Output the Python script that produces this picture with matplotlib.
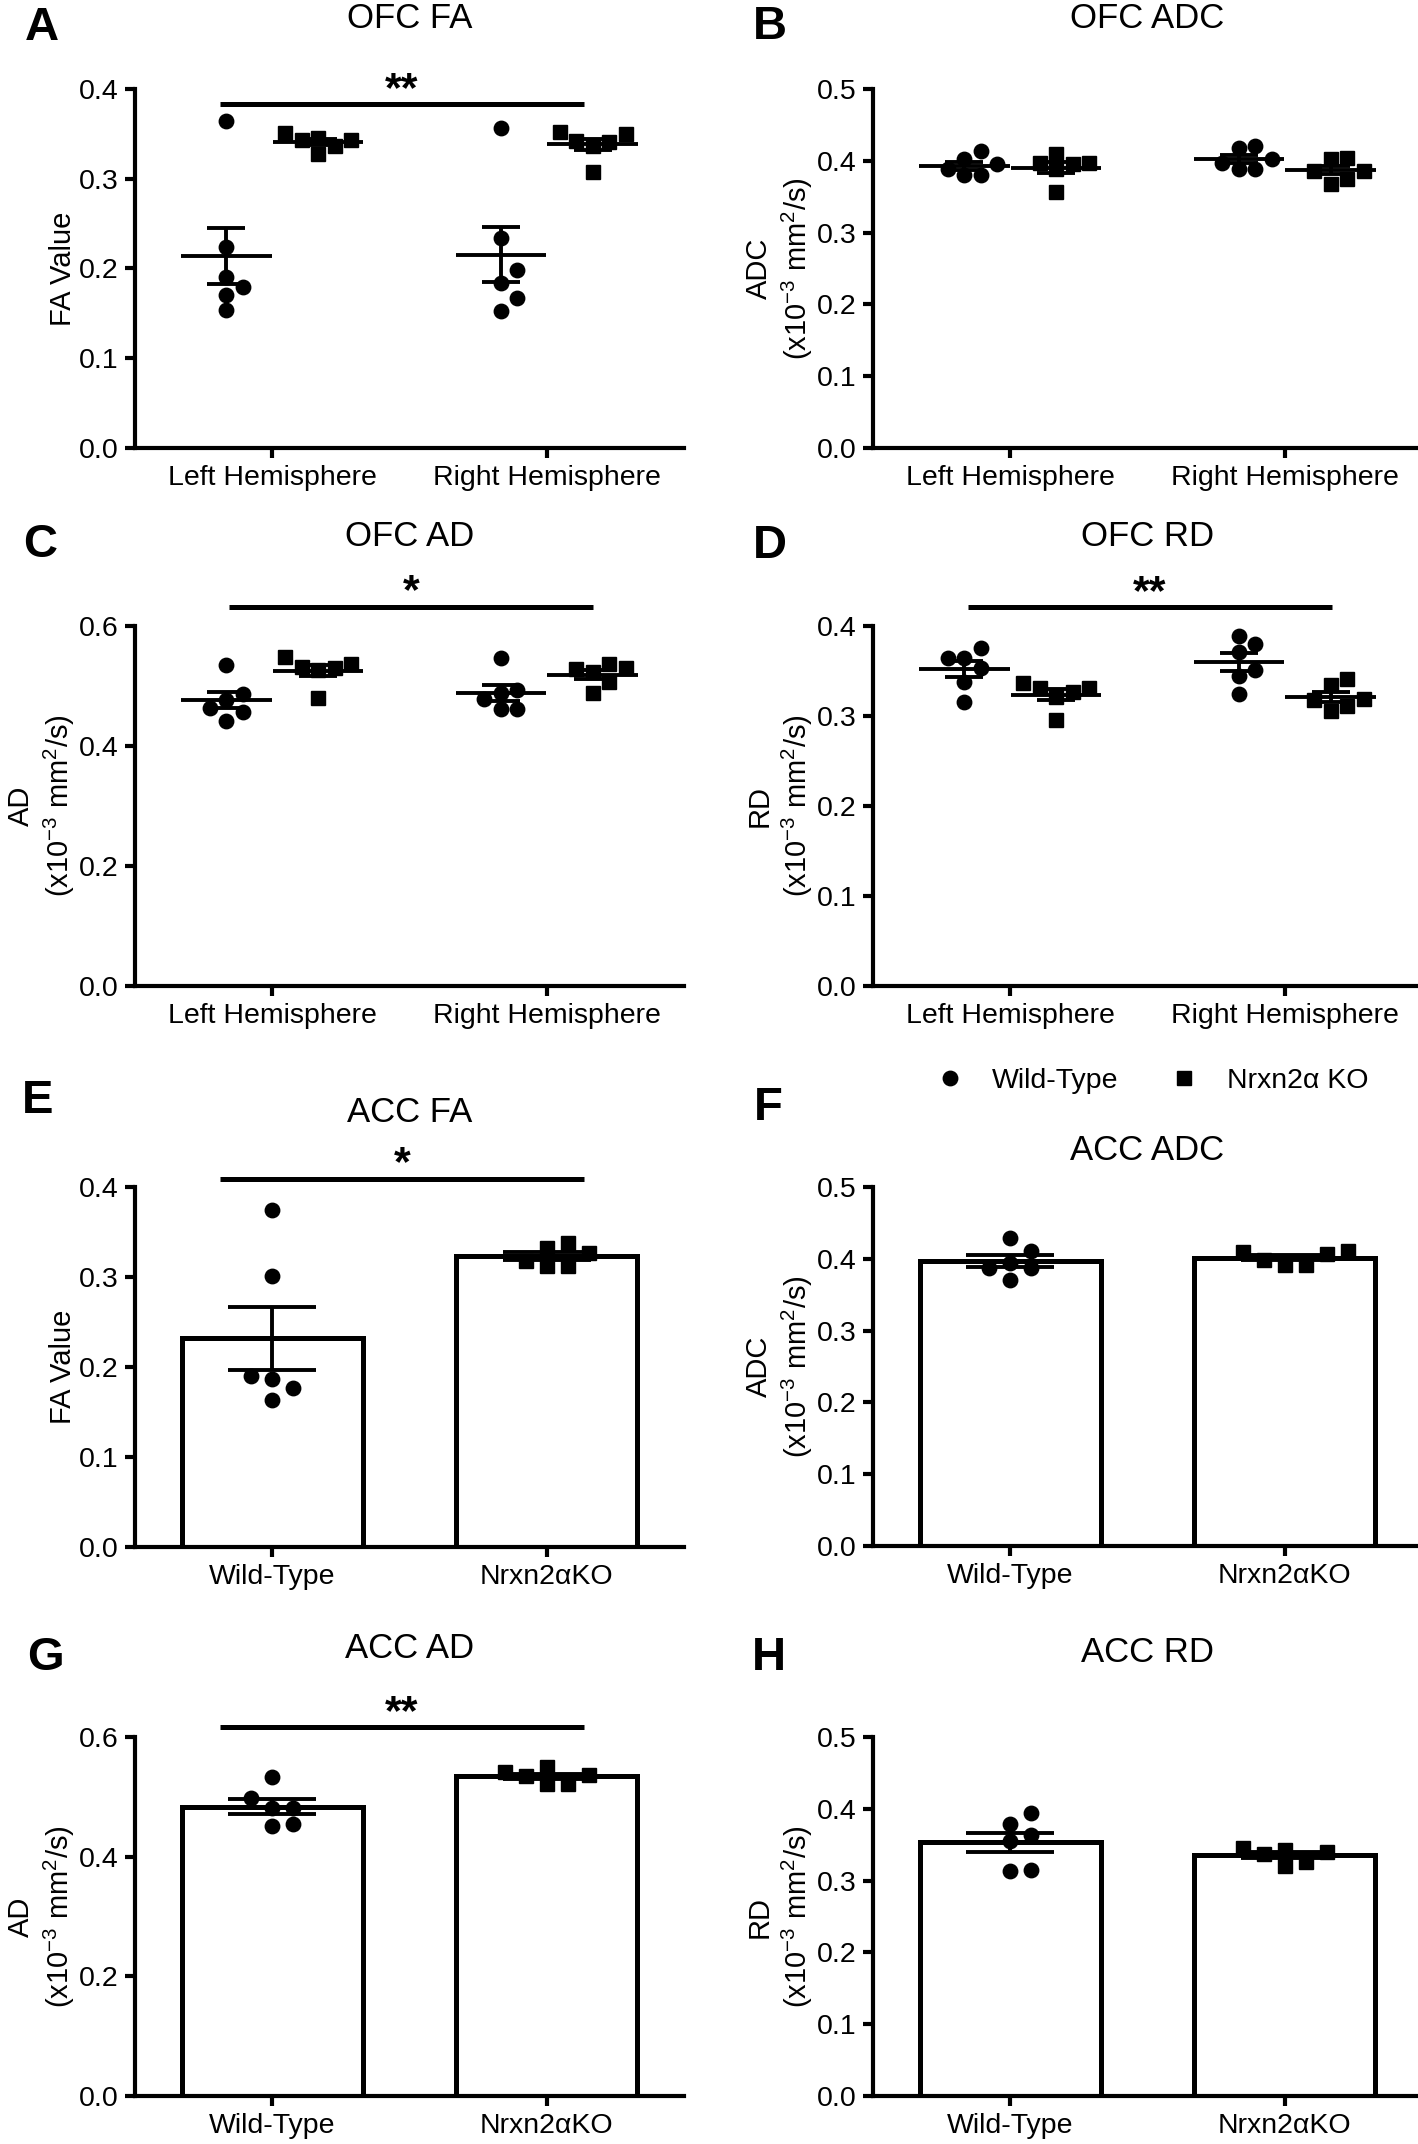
import numpy as np
import matplotlib
matplotlib.use('Agg')
import matplotlib.pyplot as plt
from matplotlib.lines import Line2D
from matplotlib.ticker import FormatStrFormatter

plt.rcParams['font.family'] = ['Liberation Sans', 'DejaVu Sans']
plt.rcParams['mathtext.default'] = 'regular'

# ---- data ----
hemis = ['Left Hemisphere', 'Right Hemisphere']
genotypes = ['Wild-Type', 'Nrxn2\u03b1KO']

ofc_fa_wt_left = [0.364, 0.2235, 0.191, 0.179, 0.171, 0.154]
ofc_fa_ko_left = [0.343, 0.343, 0.328, 0.337, 0.345, 0.351]
ofc_fa_wt_right = [0.356, 0.234, 0.198, 0.184, 0.167, 0.153]
ofc_fa_ko_right = [0.350, 0.341, 0.308, 0.336, 0.342, 0.352]

ofc_adc_wt_left = [0.403, 0.413, 0.388, 0.380, 0.380, 0.395]
ofc_adc_ko_left = [0.397, 0.395, 0.388, 0.357, 0.397, 0.409]
ofc_adc_wt_right = [0.397, 0.420, 0.389, 0.389, 0.418, 0.402]
ofc_adc_ko_right = [0.386, 0.404, 0.368, 0.375, 0.403, 0.386]

ofc_ad_wt_left = [0.535, 0.487, 0.464, 0.476, 0.457, 0.442]
ofc_ad_ko_left = [0.536, 0.530, 0.527, 0.480, 0.532, 0.549]
ofc_ad_wt_right = [0.546, 0.494, 0.479, 0.488, 0.461, 0.461]
ofc_ad_ko_right = [0.530, 0.524, 0.536, 0.488, 0.507, 0.528]

ofc_rd_wt_left = [0.365, 0.376, 0.365, 0.353, 0.338, 0.316]
ofc_rd_ko_left = [0.331, 0.327, 0.321, 0.296, 0.331, 0.337]
ofc_rd_wt_right = [0.389, 0.380, 0.371, 0.351, 0.344, 0.324]
ofc_rd_ko_right = [0.318, 0.341, 0.306, 0.311, 0.334, 0.319]

acc_fa_wt = [0.374, 0.301, 0.190, 0.187, 0.177, 0.163]
acc_fa_ko = [0.332, 0.318, 0.338, 0.312, 0.312, 0.327]
acc_adc_wt = [0.429, 0.411, 0.387, 0.371, 0.387, 0.394]
acc_adc_ko = [0.411, 0.399, 0.391, 0.391, 0.406, 0.410]
acc_ad_wt = [0.533, 0.498, 0.482, 0.482, 0.452, 0.454]
acc_ad_ko = [0.541, 0.534, 0.522, 0.522, 0.537, 0.550]
acc_rd_wt = [0.394, 0.379, 0.363, 0.355, 0.314, 0.315]
acc_rd_ko = [0.343, 0.337, 0.320, 0.326, 0.340, 0.345]

# ---- layout (pixels) ----
W, H = 1418, 2144
fig = plt.figure(figsize=(W / 100, H / 100), dpi=100)

unit = '(x10$^{-3}$ mm$^{2}$/s)'
LW = 2.8
MS = 10.4


def add_ax(x0, y0, x1, y1):
    return fig.add_axes([x0 / W, 1 - y1 / H, (x1 - x0) / W, (y1 - y0) / H])


def style(ax, ymax, ystep, ylabel, xlabels):
    ax.set_xlim(-0.5, 1.5)
    ax.set_ylim(0, ymax)
    ax.set_yticks(np.arange(0, ymax + 1e-9, ystep))
    ax.yaxis.set_major_formatter(FormatStrFormatter('%.1f'))
    ax.set_xticks([0, 1])
    ax.set_xticklabels(xlabels)
    for s in ['top', 'right']:
        ax.spines[s].set_visible(False)
    for s in ['left', 'bottom']:
        ax.spines[s].set_linewidth(3.0)
    ax.tick_params(width=3.0, length=7, labelsize=20.5, pad=5)
    ax.set_ylabel(ylabel, fontsize=21, labelpad=1, linespacing=1.25)


def swarm(ax, vals, step_px, diam_px):
    bb = ax.get_position()
    px_y = bb.height * H / ax.get_ylim()[1]
    px_x = bb.width * W / (ax.get_xlim()[1] - ax.get_xlim()[0])
    vals = np.asarray(vals)
    offs = np.zeros(len(vals))
    placed = []
    cands = [0] + [s * j for j in range(1, 8) for s in (1, -1)]
    for i in np.argsort(vals):
        y = vals[i] * px_y
        for c in cands:
            x = c * step_px
            if all((x - px) ** 2 + (y - py) ** 2 >= diam_px ** 2 for py, px in placed):
                break
        placed.append((y, x))
        offs[i] = x / px_x
    return offs


def mean_sem(v):
    v = np.asarray(v)
    return v.mean(), v.std(ddof=1) / np.sqrt(len(v))


def scatter_panel(ax, groups):
    for xc, vals, mk in groups:
        offs = swarm(ax, vals, 16.5, 14.5)
        ax.plot(xc + offs, vals, ls='', marker=mk, color='black',
                ms=MS if mk == 'o' else MS - 0.4, zorder=3, clip_on=False)
        m, se = mean_sem(vals)
        ax.hlines(m, xc - 0.165, xc + 0.165, color='black', lw=LW, zorder=4)
        ax.errorbar(xc, m, yerr=se, fmt='none', ecolor='black', elinewidth=LW,
                    capsize=14, capthick=LW, zorder=4)


def bar_panel(ax, groups):
    for xc, vals, mk in groups:
        m, se = mean_sem(vals)
        ax.bar(xc, m, width=0.66, color='white', edgecolor='black', linewidth=3.6, zorder=1)
        offs = swarm(ax, vals, 21, 14.5)
        ax.plot(xc + offs, vals, ls='', marker=mk, color='black',
                ms=MS if mk == 'o' else MS - 0.4, zorder=3, clip_on=False)
        ax.errorbar(xc, m, yerr=se, fmt='none', ecolor='black', elinewidth=LW,
                    capsize=32, capthick=LW, zorder=4)


def sig(ax, x0, x1, y, txt):
    ax.plot([x0, x1], [y, y], color='black', lw=3.6, solid_capstyle='butt', clip_on=False, zorder=5)
    ax.annotate(txt, ((x0 + x1) / 2, y), xytext=(0, 2.5), textcoords='offset points',
                ha='center', va='baseline', fontsize=31, fontweight='bold', annotation_clip=False)


def title(ax, y_px, txt):
    bb = ax.get_position()
    fig.text(bb.x0 + bb.width / 2, 1 - y_px / H, txt, ha='center', va='center', fontsize=25)


def letter(x_px, y_px, txt):
    fig.text(x_px / W, 1 - y_px / H, txt, ha='center', va='center', fontsize=34, fontweight='bold')


d = 0.167

# A
axA = add_ax(135, 89, 684, 448)
style(axA, 0.4, 0.1, 'FA Value', hemis)
scatter_panel(axA, [(-d, ofc_fa_wt_left, 'o'), (d, ofc_fa_ko_left, 's'),
                    (1 - d, ofc_fa_wt_right, 'o'), (1 + d, ofc_fa_ko_right, 's')])
sig(axA, -0.19, 1.136, 0.383, '**')
title(axA, 18, 'OFC FA')
letter(42, 28, 'A')

# B
axB = add_ax(873, 89, 1422, 448)
style(axB, 0.5, 0.1, 'ADC\n' + unit, hemis)
scatter_panel(axB, [(-d, ofc_adc_wt_left, 'o'), (d, ofc_adc_ko_left, 's'),
                    (1 - d, ofc_adc_wt_right, 'o'), (1 + d, ofc_adc_ko_right, 's')])
title(axB, 18, 'OFC ADC')
letter(770, 27, 'B')

# C
axC = add_ax(135, 626, 684, 986)
style(axC, 0.6, 0.2, 'AD\n' + unit, hemis)
scatter_panel(axC, [(-d, ofc_ad_wt_left, 'o'), (d, ofc_ad_ko_left, 's'),
                    (1 - d, ofc_ad_wt_right, 'o'), (1 + d, ofc_ad_ko_right, 's')])
sig(axC, -0.156, 1.169, 0.632, '*')
title(axC, 536, 'OFC AD')
letter(40, 545, 'C')

# D
axD = add_ax(873, 626, 1422, 986)
style(axD, 0.4, 0.1, 'RD\n' + unit, hemis)
scatter_panel(axD, [(-d, ofc_rd_wt_left, 'o'), (d, ofc_rd_ko_left, 's'),
                    (1 - d, ofc_rd_wt_right, 'o'), (1 + d, ofc_rd_ko_right, 's')])
sig(axD, -0.154, 1.172, 0.421, '**')
title(axD, 536, 'OFC RD')
letter(770, 546, 'D')

# E
axE = add_ax(135, 1187, 684, 1547)
style(axE, 0.4, 0.1, 'FA Value', genotypes)
bar_panel(axE, [(0, acc_fa_wt, 'o'), (1, acc_fa_ko, 's')])
sig(axE, -0.19, 1.136, 0.409, '*')
title(axE, 1113, 'ACC FA')
letter(38, 1101, 'E')

# F
axF = add_ax(873, 1187, 1422, 1546)
style(axF, 0.5, 0.1, 'ADC\n' + unit, genotypes)
bar_panel(axF, [(0, acc_adc_wt, 'o'), (1, acc_adc_ko, 's')])
title(axF, 1151, 'ACC ADC')
letter(768, 1108, 'F')

# G
axG = add_ax(135, 1737, 684, 2096)
style(axG, 0.6, 0.2, 'AD\n' + unit, genotypes)
bar_panel(axG, [(0, acc_ad_wt, 'o'), (1, acc_ad_ko, 's')])
sig(axG, -0.19, 1.136, 0.616, '**')
title(axG, 1648, 'ACC AD')
letter(45, 1658, 'G')

# H
axH = add_ax(873, 1737, 1422, 2096)
style(axH, 0.5, 0.1, 'RD\n' + unit, genotypes)
bar_panel(axH, [(0, acc_rd_wt, 'o'), (1, acc_rd_ko, 's')])
title(axH, 1653, 'ACC RD')
letter(769, 1658, 'H')

# legend
handles = [Line2D([], [], ls='', marker='o', color='black', ms=MS),
           Line2D([], [], ls='', marker='s', color='black', ms=MS - 0.4)]
fig.legend(handles, ['Wild-Type', 'Nrxn2\u03b1 KO'], loc='center',
           bbox_to_anchor=(1152 / W, 1 - 1081 / H), ncol=2, frameon=False,
           fontsize=20.5, handlelength=1.0, handletextpad=1.0, columnspacing=1.8)

fig.savefig('out.png', dpi=100)
